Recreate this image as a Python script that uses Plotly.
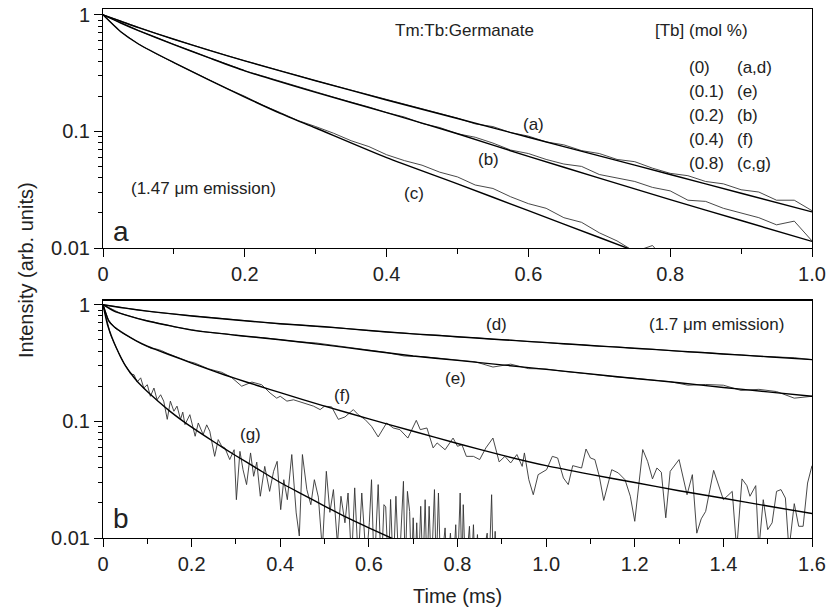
import numpy as np
import plotly.graph_objects as go

# ---------------- data (intensities) ----------------
# Top panel (1.47 um emission)
top_t = [round(0.025 * i, 3) for i in range(41)]          # sampling times (ms)
a_data = [1.0, 0.881, 0.776, 0.692, 0.617, 0.552, 0.495, 0.447, 0.403, 0.366, 0.335, 0.301, 0.272,
          0.248, 0.226, 0.205, 0.187, 0.170, 0.157, 0.141, 0.130, 0.116, 0.110, 0.0977, 0.0912, 0.0813,
          0.0767, 0.0684, 0.0646, 0.0575, 0.0550, 0.0484, 0.0437, 0.0417, 0.0372, 0.0355, 0.0316,
          0.0302, 0.0257, 0.0257, 0.0209]
b_data = [1.0, 0.851, 0.733, 0.638, 0.556, 0.486, 0.427, 0.378, 0.331, 0.299, 0.269, 0.240, 0.219,
          0.197, 0.178, 0.162, 0.145, 0.133, 0.117, 0.108, 0.0955, 0.0891, 0.0794, 0.0692, 0.0646,
          0.0575, 0.0525, 0.0501, 0.0427, 0.0398, 0.0372, 0.0331, 0.0309, 0.0257, 0.0251, 0.0219,
          0.0200, 0.0182, 0.0158, 0.0170, 0.0115]
c_data = [1.0, 0.716, 0.562, 0.462, 0.389, 0.327, 0.275, 0.233, 0.200, 0.168, 0.145, 0.124, 0.110,
          0.0966, 0.0832, 0.0741, 0.0631, 0.0562, 0.0513, 0.0447, 0.0407, 0.0347, 0.0324, 0.0275,
          0.0240, 0.0219, 0.0182, 0.0166, 0.0135, 0.0115, 0.0093, 0.0105, 0.0071]

ab_fit_t = [0, 0.025, 0.05, 0.1, 0.15, 0.2, 0.3, 0.4, 0.5, 0.6, 0.7, 0.8, 0.9, 1.0]
a_fit = [1, 0.881, 0.776, 0.617, 0.495, 0.403, 0.272, 0.186, 0.129, 0.0891, 0.0617, 0.0427, 0.0295, 0.0204]
b_fit = [1, 0.851, 0.733, 0.556, 0.427, 0.331, 0.216, 0.145, 0.0955, 0.061, 0.0398, 0.026, 0.0172, 0.0114]
c_fit_t = [0, 0.025, 0.05, 0.1, 0.15, 0.2, 0.25, 0.3, 0.4, 0.5, 0.6, 0.7, 0.8]
c_fit = [1, 0.716, 0.562, 0.389, 0.275, 0.197, 0.143, 0.107, 0.0596, 0.0355, 0.0209, 0.0123, 0.00724]

# Bottom panel (1.7 um emission)
de_t = [round(0.04 * i, 2) for i in range(41)]
d_data = [1.0, 0.944, 0.900, 0.859, 0.832, 0.804, 0.771, 0.750, 0.723, 0.708, 0.684, 0.673, 0.650,
          0.638, 0.617, 0.603, 0.582, 0.571, 0.553, 0.546, 0.528, 0.521, 0.505, 0.498, 0.482, 0.475,
          0.460, 0.454, 0.440, 0.435, 0.421, 0.415, 0.403, 0.393, 0.389, 0.377, 0.372, 0.361, 0.356,
          0.351, 0.338]
e_data = [1.0, 0.841, 0.759, 0.695, 0.646, 0.610, 0.578, 0.560, 0.535, 0.522, 0.501, 0.481, 0.470,
          0.447, 0.425, 0.407, 0.389, 0.363, 0.359, 0.347, 0.333, 0.324, 0.292, 0.309, 0.283, 0.281,
          0.268, 0.258, 0.251, 0.240, 0.234, 0.225, 0.219, 0.204, 0.207, 0.204, 0.184, 0.188, 0.180,
          0.158, 0.164]
d_fit_t = [0, 0.05, 0.1, 0.2, 0.3, 0.4, 0.5, 0.6, 0.7, 0.8, 0.9, 1.0, 1.1, 1.2, 1.3, 1.4, 1.5, 1.6]
d_fit = [1, 0.933, 0.881, 0.800, 0.738, 0.687, 0.646, 0.600, 0.562, 0.531, 0.501, 0.473, 0.447,
         0.423, 0.400, 0.378, 0.358, 0.338]
e_fit_t = [0, 0.025, 0.05, 0.1, 0.15, 0.2, 0.3, 0.4, 0.5, 0.6, 0.7, 0.8, 0.9, 1.0, 1.1, 1.2, 1.3,
           1.4, 1.5, 1.6]
e_fit = [1, 0.881, 0.817, 0.724, 0.661, 0.605, 0.547, 0.501, 0.452, 0.405, 0.363, 0.333, 0.305,
         0.279, 0.255, 0.233, 0.214, 0.195, 0.179, 0.164]

f_t = [0, 0.012, 0.027, 0.042, 0.057, 0.072, 0.087, 0.10, 0.11, 0.12, 0.132, 0.147, 0.162, 0.177,
       0.192, 0.207, 0.223, 0.238, 0.253, 0.268, 0.29, 0.313, 0.336, 0.358, 0.377, 0.392, 0.40,
       0.415, 0.43, 0.45, 0.475, 0.49, 0.50, 0.516, 0.531, 0.546, 0.565, 0.576, 0.591, 0.606, 0.621,
       0.64, 0.655, 0.67, 0.688, 0.707, 0.716, 0.731, 0.745, 0.754, 0.772, 0.79, 0.80, 0.81, 0.82,
       0.836, 0.85, 0.864, 0.88, 0.894, 0.907, 0.92, 0.934, 0.946, 0.951, 0.961, 0.971, 0.982,
       1.001, 1.014, 1.026, 1.039, 1.05, 1.06, 1.08, 1.09, 1.10, 1.11, 1.12, 1.13, 1.148, 1.163,
       1.178, 1.19, 1.20, 1.218, 1.229, 1.24, 1.25, 1.26, 1.27, 1.28, 1.30, 1.318, 1.33, 1.34,
       1.35, 1.36, 1.378, 1.40, 1.42, 1.43, 1.442, 1.453, 1.46, 1.473, 1.48, 1.49, 1.50, 1.51,
       1.52, 1.53, 1.54, 1.548, 1.56, 1.57, 1.58, 1.59, 1.60]
f_data = [1.0, 0.743, 0.631, 0.575, 0.536, 0.495, 0.460, 0.437, 0.420, 0.417, 0.404, 0.380, 0.361,
          0.347, 0.327, 0.316, 0.296, 0.282, 0.272, 0.263, 0.238, 0.200, 0.217, 0.206, 0.175, 0.158,
          0.164, 0.149, 0.153, 0.145, 0.135, 0.126, 0.135, 0.133, 0.104, 0.109, 0.126, 0.114, 0.104,
          0.0906, 0.0735, 0.0968, 0.0877, 0.0849, 0.0719, 0.102, 0.0849, 0.0877, 0.0592, 0.0653,
          0.0571, 0.0719, 0.0611, 0.0631, 0.0501, 0.0501, 0.0470, 0.0592, 0.0719, 0.0449, 0.0501,
          0.0440, 0.0519, 0.0411, 0.0536, 0.0316, 0.0235, 0.0349, 0.0385, 0.0501, 0.0485, 0.0327,
          0.0287, 0.0417, 0.0398, 0.0579, 0.0485, 0.0470, 0.0338, 0.0210, 0.0385, 0.0361, 0.0316,
          0.0228, 0.0139, 0.0573, 0.0454, 0.0321, 0.0398, 0.0366, 0.0149, 0.0373, 0.0470, 0.0235,
          0.0349, 0.0110, 0.0146, 0.0169, 0.0380, 0.0213, 0.0251, 0.0079, 0.0321, 0.0281, 0.0228,
          0.0281, 0.0079, 0.0213, 0.0118, 0.0135, 0.0251, 0.0260, 0.0220, 0.0079, 0.0197, 0.0126,
          0.0126, 0.0296, 0.0417]
f_fit_t = [0, 0.0135, 0.025, 0.05, 0.075, 0.1, 0.15, 0.2, 0.25, 0.3, 0.35, 0.4, 0.5, 0.6, 0.7, 0.8,
           0.9, 1.0, 1.1, 1.2, 1.3, 1.4, 1.5, 1.6]
f_fit = [1, 0.719, 0.646, 0.556, 0.490, 0.442, 0.372, 0.316, 0.269, 0.232, 0.202, 0.176, 0.135,
         0.105, 0.0822, 0.0646, 0.0513, 0.0417, 0.0351, 0.0299, 0.0254, 0.0219, 0.0188, 0.0162]

g_t = [0, 0.0098, 0.017, 0.025, 0.032, 0.04, 0.047, 0.055, 0.062, 0.07, 0.077, 0.085, 0.092, 0.1,
       0.107, 0.115, 0.122, 0.13, 0.137, 0.145, 0.152, 0.16, 0.167, 0.175, 0.18, 0.185, 0.196,
       0.208, 0.215, 0.226, 0.234, 0.241, 0.252, 0.26, 0.268, 0.275, 0.286, 0.296, 0.301, 0.309,
       0.316, 0.324, 0.333, 0.34, 0.347, 0.355, 0.365, 0.376, 0.385, 0.393, 0.401, 0.408, 0.416,
       0.426, 0.436, 0.443, 0.45, 0.46, 0.469, 0.477, 0.486, 0.495, 0.504, 0.512, 0.52, 0.529,
       0.537, 0.546, 0.553, 0.561, 0.568, 0.576, 0.584, 0.594, 0.601, 0.606, 0.612, 0.621, 0.628,
       0.634, 0.638, 0.644, 0.649, 0.655, 0.661, 0.668, 0.678, 0.682, 0.687, 0.692, 0.696, 0.700,
       0.704, 0.708, 0.712, 0.717, 0.722, 0.727, 0.731, 0.736, 0.741, 0.748, 0.752, 0.757, 0.762,
       0.772, 0.777, 0.784, 0.79, 0.796, 0.80, 0.806, 0.81, 0.813, 0.818, 0.827, 0.831, 0.836,
       0.84, 0.845, 0.85, 0.867, 0.871, 0.877, 0.881, 0.885, 0.888]
g_data = [1.0, 0.697, 0.553, 0.469, 0.404, 0.354, 0.316, 0.286, 0.255, 0.251, 0.217, 0.236, 0.193,
          0.206, 0.164, 0.193, 0.153, 0.169, 0.149, 0.104, 0.149, 0.122, 0.135, 0.104, 0.120, 0.0938,
          0.114, 0.0745, 0.0968, 0.0769, 0.0933, 0.0822, 0.0501, 0.0697, 0.0611, 0.0592, 0.0470,
          0.0571, 0.0213, 0.0553, 0.0385, 0.0287, 0.0536, 0.0338, 0.0447, 0.0228, 0.0411, 0.0251,
          0.0373, 0.0454, 0.0175, 0.0316, 0.0213, 0.0519, 0.0164, 0.0104, 0.0519, 0.0260, 0.0193,
          0.0316, 0.0224, 0.0079, 0.0373, 0.0166, 0.0260, 0.0089, 0.0228, 0.0135, 0.0243, 0.0063,
          0.0269, 0.0063, 0.0243, 0.0063, 0.0135, 0.0316, 0.005, 0.0287, 0.005, 0.0193, 0.0185,
          0.005, 0.0214, 0.005, 0.0228, 0.005, 0.0306, 0.005, 0.0251, 0.0169, 0.005, 0.0149, 0.005,
          0.0135, 0.005, 0.0187, 0.005, 0.0213, 0.005, 0.0187, 0.005, 0.0260, 0.005, 0.0243, 0.005,
          0.0122, 0.005, 0.0110, 0.005, 0.0130, 0.005, 0.0243, 0.005, 0.0193, 0.005, 0.0126, 0.005,
          0.0130, 0.005, 0.0107, 0.005, 0.0110, 0.005, 0.0235, 0.005, 0.0114, 0.005]
g_fit_t = [0, 0.005, 0.01, 0.02, 0.03, 0.04, 0.05, 0.06, 0.08, 0.1, 0.125, 0.15, 0.175, 0.2, 0.25,
           0.3, 0.35, 0.4, 0.45, 0.5, 0.55, 0.6, 0.65, 0.7]
g_fit = [1, 0.813, 0.676, 0.525, 0.427, 0.355, 0.302, 0.266, 0.214, 0.180, 0.148, 0.123, 0.104,
         0.0891, 0.0668, 0.0507, 0.0389, 0.0299, 0.0237, 0.0188, 0.0150, 0.0122, 0.0100, 0.00813]

top_xticks = [0, 0.2, 0.4, 0.6, 0.8, 1.0]
top_xlabels = ["0", "0.2", "0.4", "0.6", "0.8", "1.0"]
bot_xticks = [0, 0.2, 0.4, 0.6, 0.8, 1.0, 1.2, 1.4, 1.6]
bot_xlabels = ["0", "0.2", "0.4", "0.6", "0.8", "1.0", "1.2", "1.4", "1.6"]
yticks = [0.01, 0.1, 1]
ylabels = ["0.01", "0.1", "1"]
yminor = [k * 10.0 ** e for e in (-2, -1) for k in range(2, 10)]

legend_conc = ["(0)", "(0.1)", "(0.2)", "(0.4)", "(0.8)"]
legend_curves = ["(a,d)", "(e)", "(b)", "(f)", "(c,g)"]

# ---------------- figure ----------------
FONT = "Liberation Sans, Arial, sans-serif"
DATA_LINE = dict(color="#333333", width=0.9)
FIT_LINE = dict(color="#000000", width=1.4, shape="spline", smoothing=0.6)

fig = go.Figure()


def add(x, y, line, xa, ya):
    fig.add_trace(go.Scatter(x=x, y=y, mode="lines", line=line, xaxis=xa, yaxis=ya,
                             showlegend=False, hoverinfo="skip"))


add(top_t, a_data, DATA_LINE, "x", "y")
add(top_t, b_data, DATA_LINE, "x", "y")
add(top_t[:len(c_data)], c_data, DATA_LINE, "x", "y")
add(ab_fit_t, a_fit, FIT_LINE, "x", "y")
add(ab_fit_t, b_fit, FIT_LINE, "x", "y")
add(c_fit_t, c_fit, FIT_LINE, "x", "y")

add(de_t, d_data, DATA_LINE, "x2", "y2")
add(de_t, e_data, DATA_LINE, "x2", "y2")
add(f_t, f_data, DATA_LINE, "x2", "y2")
add(g_t, g_data, DATA_LINE, "x2", "y2")
add(d_fit_t, d_fit, FIT_LINE, "x2", "y2")
add(e_fit_t, e_fit, FIT_LINE, "x2", "y2")
add(f_fit_t, f_fit, FIT_LINE, "x2", "y2")
add(g_fit_t, g_fit, FIT_LINE, "x2", "y2")

W, H = 828, 611
ML, MR, MT, MB = 103, 16, 9, 73
PW, PH = W - ML - MR, H - MT - MB


def px(xp, yp):
    return (xp - ML) / PW, (H - MB - yp) / PH


def xaxis_common(vals, labels, rng, anchor):
    return dict(type="linear", range=rng, anchor=anchor, tickmode="array", tickvals=vals,
                ticktext=labels, ticks="outside", ticklen=8, tickwidth=1, tickcolor="black",
                showline=True, linecolor="black", linewidth=1, mirror=True, showgrid=False,
                zeroline=False, tickfont=dict(family=FONT, size=20, color="#222"),
                minor=dict(dtick=0.1, tick0=0, ticks="outside", ticklen=5, tickwidth=1,
                           tickcolor="black", showgrid=False))


def yaxis_common(rng, domain, anchor):
    return dict(type="log", range=rng, domain=domain, anchor=anchor, tickmode="array",
                tickvals=yticks, ticktext=ylabels, ticks="outside", ticklen=8, tickwidth=1,
                tickcolor="black", showline=True, linecolor="black", linewidth=1, mirror=True,
                showgrid=False, zeroline=False,
                tickfont=dict(family=FONT, size=20, color="#222"),
                minor=dict(tickmode="array", tickvals=yminor, ticks="outside", ticklen=4,
                           tickwidth=1, tickcolor="black", showgrid=False))


top_dom = [px(0, 248)[1], 1.0]
bot_dom = [0.0, px(0, 300)[1]]

fig.update_layout(
    width=W, height=H, margin=dict(l=ML, r=MR, t=MT, b=MB, autoexpand=False),
    paper_bgcolor="white", plot_bgcolor="white",
    font=dict(family=FONT, color="#222"),
    xaxis=xaxis_common(top_xticks, top_xlabels, [0, 1.0], "y"),
    yaxis=yaxis_common([-2, 0.05], top_dom, "x"),
    xaxis2=xaxis_common(bot_xticks, bot_xlabels, [0, 1.6], "y2"),
    yaxis2=yaxis_common([-2, 0.04], bot_dom, "x2"),
    shapes=[dict(type="line", xref="paper", yref="paper", x0=0, x1=1,
                 y0=bot_dom[1], y1=bot_dom[1], line=dict(color="black", width=2))],
)

ann = []


def text(s, xp, yp, size=17, xanchor="center", angle=0):
    x, y = px(xp, yp)
    ann.append(dict(text=s, x=x, y=y, xref="paper", yref="paper", xanchor=xanchor,
                    yanchor="middle", showarrow=False, textangle=angle,
                    font=dict(family=FONT, size=size, color="#222")))


text("Tm:Tb:Germanate", 393, 30, xanchor="left")
text("[Tb] (mol %)", 653, 30, xanchor="left")
for i, (c, k) in enumerate(zip(legend_conc, legend_curves)):
    yy = 67 + i * 24
    text(c, 687, yy, xanchor="left")
    text(k, 735, yy, xanchor="left")
text("(a)", 533, 125)
text("(b)", 488, 160)
text("(c)", 414, 193)
text("(1.47 \u03bcm emission)", 203, 188)
text("a", 121, 231, size=28)
text("(d)", 496, 325)
text("(1.7 \u03bcm emission)", 716, 325)
text("(e)", 455, 378)
text("(f)", 342, 395)
text("(g)", 250, 434)
text("b", 121, 518, size=28)
text("Intensity (arb. units)", 26, 270, size=20, angle=-90)
text("Time (ms)", 457, 596, size=20)

fig.update_layout(annotations=ann)
fig.write_html("out.html", config={"displayModeBar": False},
               post_script="document.body.style.margin='0';document.body.style.overflow='hidden';")
